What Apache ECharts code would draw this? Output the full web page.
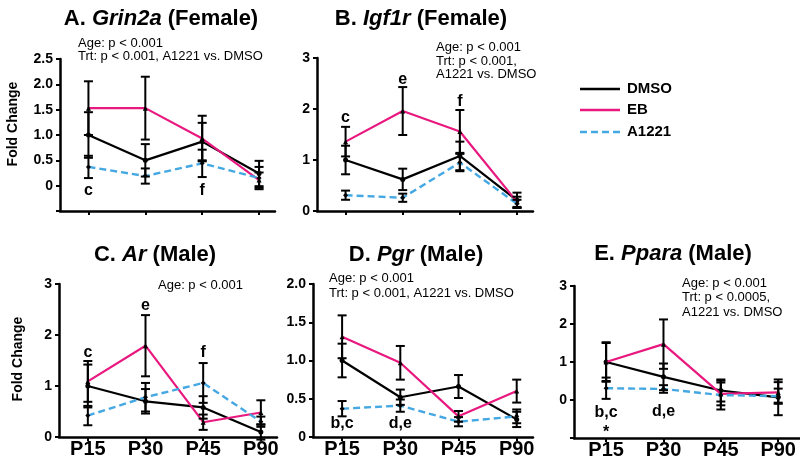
<!DOCTYPE html>
<html><head><meta charset="utf-8">
<script src="https://cdn.jsdelivr.net/npm/echarts@6/dist/echarts.min.js"></script>
<style>html,body{margin:0;padding:0;background:#fff}#c{width:800px;height:466px}</style>
</head><body><div id="c"></div>
<script>
// ---------- data ----------
const categories = ['P15', 'P30', 'P45', 'P90'];
const seriesNames = ['DMSO', 'EB', 'A1221'];

// A. Grin2a (Female)
const grin2aDMSO = [1.00, 0.50, 0.87, 0.24];
const grin2aDMSOErr = [0.45, 0.32, 0.37, 0.25];
const grin2aEB = [1.53, 1.53, 0.93, 0.11];
const grin2aEBErr = [0.53, 0.62, 0.45, 0.15];
const grin2aA1221 = [0.37, 0.19, 0.44, 0.15];
const grin2aA1221Err = [0.22, 0.15, 0.27, 0.22];
const grin2aLetters = [[0, -0.10, 'c'], [2, -0.10, 'f']];

// B. Igf1r (Female)
const igf1rDMSO = [1.00, 0.62, 1.08, 0.21];
const igf1rDMSOErr = [0.28, 0.21, 0.28, 0.15];
const igf1rEB = [1.36, 1.96, 1.56, 0.18];
const igf1rEBErr = [0.29, 0.47, 0.42, 0.10];
const igf1rA1221 = [0.31, 0.26, 0.95, 0.14];
const igf1rA1221Err = [0.09, 0.08, 0.17, 0.08];
const igf1rLetters = [[0, 1.84, 'c'], [1, 2.57, 'e'], [2, 2.15, 'f']];

// C. Ar (Male)
const arDMSO = [1.00, 0.70, 0.58, 0.10];
const arDMSOErr = [0.42, 0.24, 0.22, 0.15];
const arEB = [1.09, 1.79, 0.29, 0.48];
const arEBErr = [0.40, 0.60, 0.15, 0.24];
const arA1221 = [0.42, 0.78, 1.06, 0.30];
const arA1221Err = [0.19, 0.28, 0.39, 0.10];
const arLetters = [[0, 1.66, 'c'], [1, 2.57, 'e'], [2, 1.66, 'f']];

// D. Pgr (Male)
const pgrDMSO = [1.00, 0.52, 0.66, 0.23];
const pgrDMSOErr = [0.22, 0.10, 0.15, 0.10];
const pgrEB = [1.31, 0.97, 0.27, 0.60];
const pgrEBErr = [0.28, 0.22, 0.07, 0.15];
const pgrA1221 = [0.37, 0.41, 0.20, 0.27];
const pgrA1221Err = [0.10, 0.08, 0.06, 0.09];
const pgrLetters = [[0, 0.17, 'b,c'], [1, 0.17, 'd,e']];

// E. Ppara (Male)
const pparaDMSO = [1.00, 0.61, 0.25, 0.07];
const pparaDMSOErr = [0.50, 0.35, 0.29, 0.47];
const pparaEB = [1.00, 1.47, 0.16, 0.20];
const pparaEBErr = [0.52, 0.65, 0.30, 0.27];
const pparaA1221 = [0.31, 0.29, 0.13, 0.10];
const pparaA1221Err = [0.28, 0.10, 0.38, 0.20];
const pparaLetters = [[0, -0.33, 'b,c'], [0, -0.86, '*'], [1, -0.31, 'd,e']];

// ---------- layout / style ----------
const FF = 'Arial, "Liberation Sans", Helvetica, sans-serif';
const EB_COLOR = '#e8187f';
const A_COLOR = '#45a8e3';

const panels = [
  { letter: 'A. ', gene: 'Grin2a', sex: ' (Female)', means: [grin2aDMSO, grin2aEB, grin2aA1221], errs: [grin2aDMSOErr, grin2aEBErr, grin2aA1221Err], letters: grin2aLetters,
    grid: [60, 59, 215, 152], xr: [-0.5, 3.28], y: { min: -0.5, max: 2.5, interval: 0.5, dec: 1 }, showX: false, title: [161, 19],
    notes: [[78, 43, 'Age: p < 0.001'], [78, 56, 'Trt: p < 0.001, A1221 vs. DMSO']] },
  { letter: 'B. ', gene: 'Igf1r', sex: ' (Female)', means: [igf1rDMSO, igf1rEB, igf1rA1221], errs: [igf1rDMSOErr, igf1rEBErr, igf1rA1221Err], letters: igf1rLetters,
    grid: [317, 58, 216, 153], xr: [-0.5, 3.28], y: { min: 0, max: 3, interval: 1, dec: 0 }, showX: false, title: [421, 19],
    notes: [[436, 47, 'Age: p < 0.001'], [436, 61, 'Trt: p < 0.001,'], [436, 74, 'A1221 vs. DMSO']] },
  { letter: 'C. ', gene: 'Ar', sex: ' (Male)', means: [arDMSO, arEB, arA1221], errs: [arDMSOErr, arEBErr, arA1221Err], letters: arLetters,
    grid: [59, 284, 218, 153], xr: [-0.5, 3.28], y: { min: 0, max: 3, interval: 1, dec: 0 }, showX: true, title: [155, 255],
    notes: [[158, 285, 'Age: p < 0.001']] },
  { letter: 'D. ', gene: 'Pgr', sex: ' (Male)', means: [pgrDMSO, pgrEB, pgrA1221], errs: [pgrDMSOErr, pgrEBErr, pgrA1221Err], letters: pgrLetters,
    grid: [313, 284, 220, 153], xr: [-0.5, 3.28], y: { min: 0, max: 2, interval: 0.5, dec: 1 }, showX: true, title: [416, 255],
    notes: [[329, 278, 'Age: p < 0.001'], [329, 293, 'Trt: p < 0.001, A1221 vs. DMSO']] },
  { letter: 'E. ', gene: 'Ppara', sex: ' (Male)', means: [pparaDMSO, pparaEB, pparaA1221], errs: [pparaDMSOErr, pparaEBErr, pparaA1221Err], letters: pparaLetters,
    grid: [574, 286, 226, 152], xr: [-0.56, 3.38], y: { min: -1, max: 3, interval: 1, dec: 0 }, showX: true, title: [673, 254],
    notes: [[682, 283, 'Age: p < 0.001'], [682, 297, 'Trt: p < 0.0005,'], [682, 312, 'A1221 vs. DMSO']] }
];

const lineStyles = [
  { color: '#000', width: 2.2, type: 'solid' },
  { color: EB_COLOR, width: 2.2, type: 'solid' },
  { color: A_COLOR, width: 2.4, type: [7, 4] }
];
const symbols = ['circle', 'triangle', 'diamond'];

function renderErr(params, api) {
  const x = api.value(0), m = api.value(1), e = api.value(2);
  const top = api.coord([x, m + e]);
  const bot = api.coord([x, m - e]);
  const hw = 4.5;
  const style = { stroke: '#000', lineWidth: 2 };
  return {
    type: 'group',
    children: [
      { type: 'line', shape: { x1: top[0], y1: top[1], x2: bot[0], y2: bot[1] }, style },
      { type: 'line', shape: { x1: top[0] - hw, y1: top[1], x2: top[0] + hw, y2: top[1] }, style },
      { type: 'line', shape: { x1: bot[0] - hw, y1: bot[1], x2: bot[0] + hw, y2: bot[1] }, style }
    ]
  };
}

function renderLetter(params, api) {
  const pt = api.coord([api.value(0), api.value(1)]);
  const d = params.context.letters[params.dataIndex];
  return {
    type: 'text', x: pt[0], y: pt[1],
    style: { text: d[2], align: 'center', verticalAlign: 'middle', font: 'bold 16px ' + FF, fill: '#000' }
  };
}

const grids = [], xAxes = [], yAxes = [], series = [], graphics = [];
panels.forEach((p, i) => {
  grids.push({ left: p.grid[0], top: p.grid[1], width: p.grid[2], height: p.grid[3] });
  xAxes.push({
    gridIndex: i, type: 'value', min: p.xr[0], max: p.xr[1], splitLine: { show: false },
    axisLine: { show: true, onZero: false, lineStyle: { color: '#000', width: 2.5 } },
    axisTick: { show: true, customValues: [0, 1, 2, 3], length: 4, lineStyle: { color: '#000', width: 2 } },
    axisLabel: { show: p.showX, customValues: [0, 1, 2, 3], formatter: v => categories[Math.round(v)],
      margin: 2, color: '#000', fontSize: 20, fontWeight: 'bold', fontFamily: FF }
  });
  yAxes.push({
    gridIndex: i, type: 'value', min: p.y.min, max: p.y.max, interval: p.y.interval, splitLine: { show: false },
    axisLine: { show: true, onZero: false, lineStyle: { color: '#000', width: 2.5 } },
    axisTick: { show: true, length: 4, lineStyle: { color: '#000', width: 2 } },
    axisLabel: { margin: 7, color: '#000', fontSize: 14, fontWeight: 'bold', fontFamily: FF,
      formatter: v => (v < 0 ? '' : (v === 0 ? '0' : v.toFixed(p.y.dec))) }
  });
  // lines
  p.means.forEach((vals, k) => {
    series.push({
      type: 'line', name: seriesNames[k], xAxisIndex: i, yAxisIndex: i,
      data: vals.map((v, j) => [j, v]),
      lineStyle: lineStyles[k], symbol: symbols[k], symbolSize: 5,
      itemStyle: { color: '#000' }, z: 3 + k * 0.1, silent: true, animation: false
    });
  });
  // error bars
  const errData = [];
  p.means.forEach((vals, k) => vals.forEach((v, j) => errData.push([j, v, p.errs[k][j]])));
  series.push({ type: 'custom', xAxisIndex: i, yAxisIndex: i, data: errData, renderItem: renderErr,
    z: 5, silent: true, clip: false, animation: false });
  // significance letters
  const letters = p.letters;
  series.push({
    type: 'custom', xAxisIndex: i, yAxisIndex: i, data: letters.map(d => [d[0], d[1]]),
    renderItem: (params, api) => { params.context.letters = letters; return renderLetter(params, api); },
    z: 6, silent: true, clip: false, animation: false
  });
  // title
  graphics.push({
    type: 'text', x: p.title[0], y: p.title[1], silent: true,
    style: { text: '{b|' + p.letter + '}{i|' + p.gene + '}{b|' + p.sex + '}', align: 'center', verticalAlign: 'middle',
      rich: { b: { fontSize: 22, fontWeight: 'bold', fontFamily: FF, fill: '#000' },
              i: { fontSize: 22, fontWeight: 'bold', fontStyle: 'italic', fontFamily: FF, fill: '#000' } } }
  });
  p.notes.forEach(n => graphics.push({
    type: 'text', x: n[0], y: n[1], silent: true,
    style: { text: n[2], align: 'left', verticalAlign: 'middle', font: '13px ' + FF, fill: '#000' }
  }));
});

// y axis names
graphics.push({ type: 'text', x: 13, y: 124, rotation: Math.PI / 2, silent: true,
  style: { text: 'Fold Change', align: 'center', verticalAlign: 'middle', font: 'bold 14px ' + FF, fill: '#000' } });
graphics.push({ type: 'text', x: 18, y: 359, rotation: Math.PI / 2, silent: true,
  style: { text: 'Fold Change', align: 'center', verticalAlign: 'middle', font: 'bold 14px ' + FF, fill: '#000' } });

// legend
const legendY = [89, 110, 132];
seriesNames.forEach((name, k) => {
  const ls = lineStyles[k];
  graphics.push({ type: 'line', silent: true, shape: { x1: 580, y1: legendY[k], x2: 620, y2: legendY[k] },
    style: { stroke: ls.color, lineWidth: 2.5, lineDash: k === 2 ? [7, 4] : null } });
  graphics.push({ type: 'text', x: 627, y: legendY[k], silent: true,
    style: { text: name, align: 'left', verticalAlign: 'middle', font: 'bold 15px ' + FF, fill: '#000' } });
});

const chart = echarts.init(document.getElementById('c'), null, { renderer: 'canvas' });
chart.setOption({
  animation: false,
  backgroundColor: '#fff',
  grid: grids, xAxis: xAxes, yAxis: yAxes, series: series, graphic: graphics
});
</script></body></html>
